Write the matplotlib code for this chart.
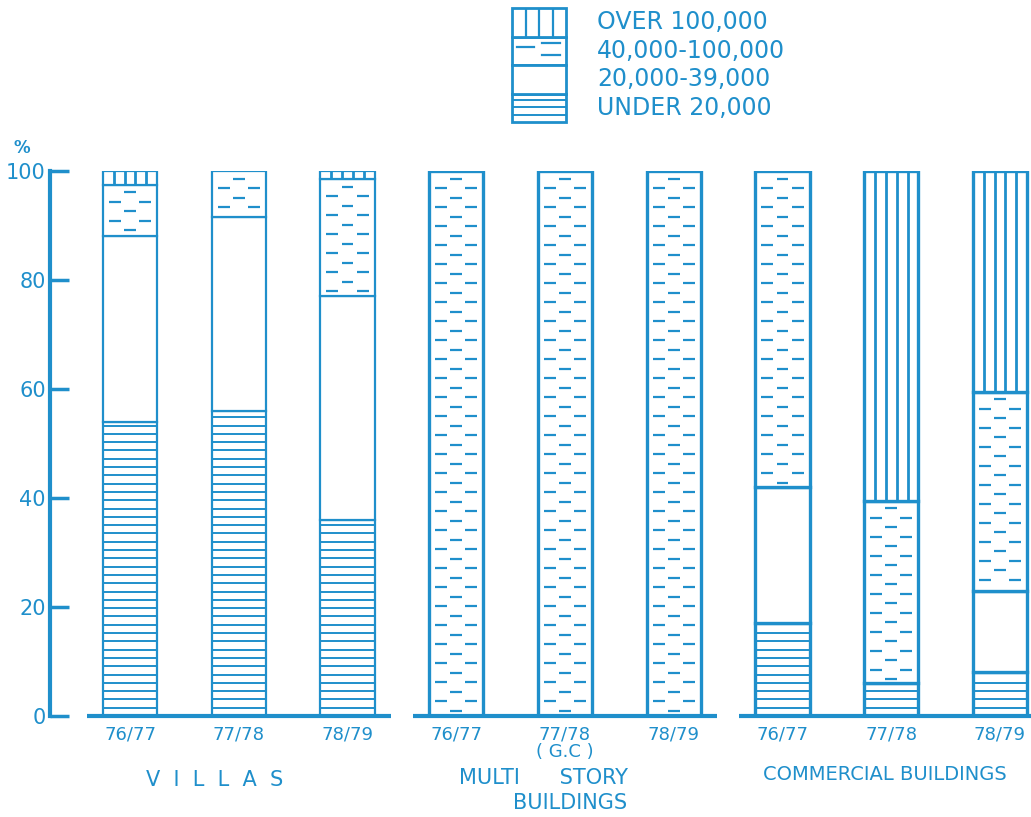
import numpy as np
import matplotlib
matplotlib.use('Agg')
import matplotlib.pyplot as plt

BLUE = '#1f8fcb'

# data (percent of units in each value band)
years = ['76/77', '77/78', '78/79'] * 3
groups = ['V  I  L  L  A  S', 'MULTI      STORY', 'COMMERCIAL BUILDINGS']
under_20k = [54, 56, 36, 0, 0, 0, 17, 6, 8]
k20_39 = [34, 35.5, 41, 0, 0, 0, 25, 0, 15]
k40_100 = [9.5, 8.5, 21.5, 100, 100, 100, 58, 33.5, 36.5]
over_100k = [2.5, 0, 1.5, 0, 0, 0, 0, 60.5, 40.5]
legend_labels = ['OVER 100,000', '40,000-100,000', '20,000-39,000', 'UNDER 20,000']

W, H = 1031, 817
fig = plt.figure(figsize=(W / 100, H / 100), dpi=100)

# axes placed so that bar centres land on the reference positions
PX = 108.75            # pixels per bar slot
x0_px, y0_px, y100_px = 50, 716, 171
left = -(130 - x0_px) / PX
right = (W - 130) / PX
ax = fig.add_axes([x0_px / W, (H - y0_px) / H, (W - x0_px) / W, (y0_px - y100_px) / H])
ax.set_xlim(left, right)
ax.set_ylim(0, 100)
PPU = (y0_px - y100_px) / 100.0   # pixels per percent


def draw_segment(ax, x, y0, h, kind, w, hstep, dstep, lw=1.8):
    if h <= 0:
        return
    ax.bar(x, h, w, bottom=y0, facecolor='white', edgecolor=BLUE, lw=lw, zorder=2)
    if kind == 'horiz':
        ys = np.arange(y0 + hstep, y0 + h - hstep * 0.4, hstep)
        ax.hlines(ys, x - w / 2, x + w / 2, color=BLUE, lw=1.4, zorder=3)
    elif kind == 'vert':
        xs = x - w / 2 + w * np.arange(1, 5) / 5
        ax.vlines(xs, y0, y0 + h, color=BLUE, lw=2.0, zorder=3)
    elif kind == 'dash':
        dl = 0.11 * w
        ys = np.arange(y0 + h - dstep * 0.8, y0 + dstep * 0.3, -dstep)
        for r, y in enumerate(ys):
            cs = [0.5] if r % 2 == 0 else [0.22, 0.78]
            for c in cs:
                xc = x - w / 2 + c * w
                ax.plot([xc - dl, xc + dl], [y, y], color=BLUE, lw=1.6, zorder=3,
                        solid_capstyle='butt')


bw = 0.5
for i in range(9):
    segs = [(under_20k[i], 'horiz'), (k20_39[i], 'blank'),
            (k40_100[i], 'dash'), (over_100k[i], 'vert')]
    lw = 1.6 if i < 3 else 2.4
    b = 0
    for h, kind in segs:
        draw_segment(ax, i, b, h, kind, bw, 8.3 / PPU, 9.5 / PPU, lw=lw)
        b += h

# axis styling
for s in ['top', 'right', 'bottom']:
    ax.spines[s].set_visible(False)
ax.spines['left'].set_bounds(0, 100)
ax.spines['left'].set_color(BLUE)
ax.spines['left'].set_linewidth(3)
ax.set_yticks(range(0, 101, 20))
ax.tick_params(axis='y', direction='in', length=14, width=2.5, colors=BLUE,
               labelsize=15, pad=3)
ax.set_xticks(range(9), years)
ax.tick_params(axis='x', length=0, colors=BLUE, labelsize=13, pad=7)

# group baselines
for g in range(3):
    ax.plot([3 * g - 0.4, 3 * g + 2.4], [0, 0], color=BLUE, lw=3, clip_on=False,
            solid_capstyle='butt', zorder=4)

fig.text(22 / W, 1 - 148 / H, '%', color=BLUE, fontsize=12, fontweight='bold',
         ha='center', va='center')
ax.text(4, -(752 - y0_px) / PPU, '( G.C )', color=BLUE, fontsize=13,
        ha='center', va='center', clip_on=False)
ax.text(0.78, -(780 - y0_px) / PPU, groups[0], color=BLUE, fontsize=15,
        ha='center', va='center', clip_on=False)
ax.text(3.8, -(778 - y0_px) / PPU, groups[1], color=BLUE, fontsize=15,
        ha='center', va='center', clip_on=False)
ax.text(4.05, -(803 - y0_px) / PPU, 'BUILDINGS', color=BLUE, fontsize=15,
        ha='center', va='center', clip_on=False)
ax.text(6.94, -(775 - y0_px) / PPU, groups[2], color=BLUE, fontsize=14,
        ha='center', va='center', clip_on=False)

# legend: hand-drawn key box
lx0, lx1, ly0, ly1 = 512, 566, 8, 122
lax = fig.add_axes([lx0 / W, 1 - ly1 / H, (lx1 - lx0) / W, (ly1 - ly0) / H])
lax.set_xlim(0, 1)
lax.set_ylim(0, 4)
lax.axis('off')
row_h = (ly1 - ly0) / 4
kinds = ['horiz', 'blank', 'dash', 'vert']
for r, kind in enumerate(kinds):
    if kind == 'dash':
        lax.bar(0.5, 1, 1, bottom=r, facecolor='white', edgecolor=BLUE, lw=2, clip_on=False)
        for (xc, yc) in [(0.25, r + 0.62), (0.72, r + 0.78), (0.72, r + 0.35)]:
            lax.plot([xc - 0.16, xc + 0.16], [yc, yc], color=BLUE, lw=1.6, clip_on=False)
    elif kind == 'vert':
        lax.bar(0.5, 1, 1, bottom=r, facecolor='white', edgecolor=BLUE, lw=2, clip_on=False)
        lax.vlines([0.25, 0.5, 0.75], r, r + 1, color=BLUE, lw=1.6, clip_on=False)
    else:
        draw_segment(lax, 0.5, r, 1, kind, 1, 0.26, 1, lw=2)
    lax.patches[-1].set_clip_on(False)

for k, lab in enumerate(legend_labels):
    yc = ly0 + row_h * (k + 0.5)
    fig.text(597 / W, 1 - yc / H, lab, color=BLUE, fontsize=17,
             ha='left', va='center')

fig.savefig('out.png', dpi=100)
